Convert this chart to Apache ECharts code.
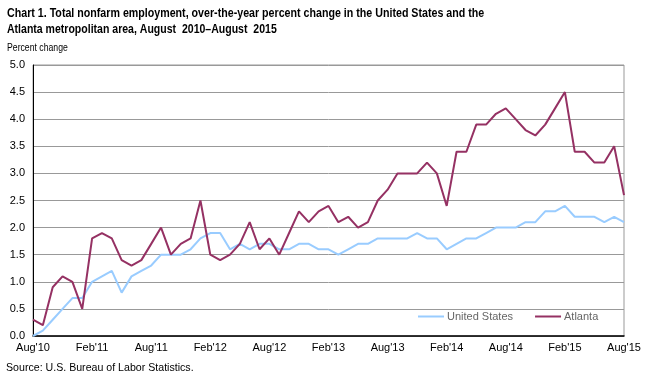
<!DOCTYPE html>
<html>
<head>
<meta charset="utf-8">
<script src="https://cdn.jsdelivr.net/npm/echarts@6/dist/echarts.min.js"></script>
<style>html,body{margin:0;padding:0;background:#fff}#c{width:654px;height:375px}</style>
</head>
<body>
<div id="c"></div>
<script>
var months = ["Aug'10","Sep'10","Oct'10","Nov'10","Dec'10","Jan'11","Feb'11","Mar'11","Apr'11","May'11","Jun'11","Jul'11",
"Aug'11","Sep'11","Oct'11","Nov'11","Dec'11","Jan'12","Feb'12","Mar'12","Apr'12","May'12","Jun'12","Jul'12",
"Aug'12","Sep'12","Oct'12","Nov'12","Dec'12","Jan'13","Feb'13","Mar'13","Apr'13","May'13","Jun'13","Jul'13",
"Aug'13","Sep'13","Oct'13","Nov'13","Dec'13","Jan'14","Feb'14","Mar'14","Apr'14","May'14","Jun'14","Jul'14",
"Aug'14","Sep'14","Oct'14","Nov'14","Dec'14","Jan'15","Feb'15","Mar'15","Apr'15","May'15","Jun'15","Jul'15","Aug'15"];
var unitedStates = [0.0,0.1,0.3,0.5,0.7,0.7,1.0,1.1,1.2,0.8,1.1,1.2,1.3,1.5,1.5,1.5,1.6,1.8,
1.9,1.9,1.6,1.7,1.6,1.7,1.7,1.6,1.6,1.7,1.7,1.6,1.6,1.5,1.6,1.7,1.7,1.8,
1.8,1.8,1.8,1.9,1.8,1.8,1.6,1.7,1.8,1.8,1.9,2.0,2.0,2.0,2.1,2.1,2.3,2.3,
2.4,2.2,2.2,2.2,2.1,2.2,2.1];
var atlanta = [0.3,0.2,0.9,1.1,1.0,0.5,1.8,1.9,1.8,1.4,1.3,1.4,1.7,2.0,1.5,1.7,1.8,2.5,
1.5,1.4,1.5,1.7,2.1,1.6,1.8,1.5,1.9,2.3,2.1,2.3,2.4,2.1,2.2,2.0,2.1,2.5,
2.7,3.0,3.0,3.0,3.2,3.0,2.4,3.4,3.4,3.9,3.9,4.1,4.2,4.0,3.8,3.7,3.9,4.2,
4.5,3.4,3.4,3.2,3.2,3.5,2.6];
var yTicks = [0, 5, 0.5];
var titleLines = ["Chart 1. Total nonfarm employment, over-the-year percent change in the United States and the",
                  "Atlanta metropolitan area, August  2010\u2013August  2015"];

var FONT = '"Liberation Sans", Arial, sans-serif';
var chart = echarts.init(document.getElementById('c'), null, {renderer:'canvas'});
chart.setOption({
  animation: false,
  backgroundColor: '#fff',
  graphic: [
    {type: 'text', x: 7, y: 7, scaleX: 0.82, style: {text: titleLines[0], font: 'bold 13px ' + FONT, fill: '#000', textVerticalAlign: 'top'}},
    {type: 'text', x: 7, y: 23, scaleX: 0.81, style: {text: titleLines[1], font: 'bold 13px ' + FONT, fill: '#000', textVerticalAlign: 'top'}},
    {type: 'text', x: 7, y: 42, scaleX: 0.79, style: {text: 'Percent change', font: '11px ' + FONT, fill: '#000', textVerticalAlign: 'top'}},
    {type: 'text', x: 6, y: 362, scaleX: 0.965, style: {text: 'Source: U.S. Bureau of Labor Statistics.', font: '11px ' + FONT, fill: '#000', textVerticalAlign: 'top'}}
  ],
  grid: {left: 33, right: 30, top: 65, bottom: 39, show: true, borderColor: '#999', borderWidth: 1},
  legend: {
    left: 418, top: 311, padding: 0, itemWidth: 26, itemHeight: 2, itemGap: 22,
    icon: 'rect',
    textStyle: {fontFamily: FONT, fontSize: 11, color: '#666', padding: [0,0,0,-2]},
    data: ['United States', 'Atlanta']
  },
  xAxis: {
    type: 'category', data: months, boundaryGap: false,
    axisLine: {lineStyle: {color: '#000', width: 1.5}},
    axisTick: {show: false},
    axisLabel: {interval: 5, color: '#000', fontFamily: FONT, fontSize: 11, margin: 6},
    splitLine: {show: false}
  },
  yAxis: {
    type: 'value', min: yTicks[0], max: yTicks[1], interval: yTicks[2],
    axisLine: {show: true, lineStyle: {color: '#000', width: 1}},
    axisTick: {show: false},
    axisLabel: {formatter: function(v){return v.toFixed(1);}, color: '#000', fontFamily: FONT, fontSize: 11, margin: 8},
    splitLine: {lineStyle: {color: '#999', width: 1}}
  },
  series: [{
    name: 'United States', type: 'line', data: unitedStates, symbol: 'none',
    lineStyle: {color: '#99ccff', width: 2}, itemStyle: {color: '#99ccff'}
  }, {
    name: 'Atlanta', type: 'line', data: atlanta, symbol: 'none',
    lineStyle: {color: '#953163', width: 2}, itemStyle: {color: '#953163'}
  }]
});
</script>
</body>
</html>
